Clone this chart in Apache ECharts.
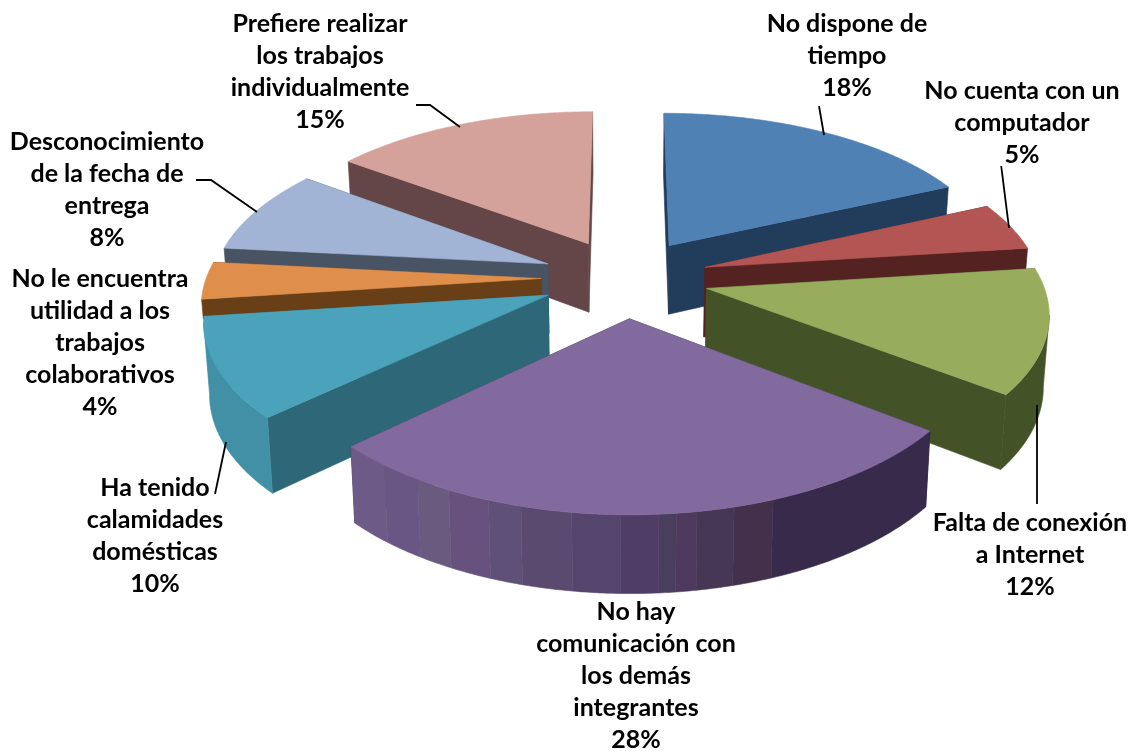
<!DOCTYPE html>
<html><head><meta charset="utf-8">
<style>html,body{margin:0;padding:0;background:#fff}#c{width:1134px;height:751px}</style>
<script src="https://cdn.jsdelivr.net/npm/echarts@6/dist/echarts.min.js"></script>
</head><body><div id="c"></div>
<script>
// ---- data (slice sizes estimated, labels show them rounded) ----
const categories = [
  'No dispone de\ntiempo',
  'No cuenta con un\ncomputador',
  'Falta de conexión\na Internet',
  'No hay\ncomunicación con\nlos demás\nintegrantes',
  'Ha tenido\ncalamidades\ndomésticas',
  'No le encuentra\nutilidad a los\ntrabajos\ncolaborativos',
  'Desconocimiento\nde la fecha de\nentrega',
  'Prefiere realizar\nlos trabajos\nindividualmente'
];
const values = [18.2, 4.8, 12.4, 27.6, 9.95, 3.7, 8.49, 14.86];

// ---- styles ----
const topColors  = ['#4f81b5','#b35552','#98ac5e','#826a9e','#4aa2bb','#df8e4b','#a1b4d5','#d4a29b'];
const sideColors = ['#213d5b','#542220','#445227','#372a4b','#2e6878','#683f17','#485364','#644648'];
const rimColors  = ['#213d5b','#542220','#445227','#372a4b','#4190a6','#683f17','#485364','#644648'];
const depthScale = [1, 1, 1, 1, 1, 0.28, 1, 1];
// stripes on the long front rim: [fraction of rim width from the left, colour]
const stripeRim = [[0,'#6d5a86'],[.058,'#695684'],[.117,'#6a5a7f'],[.169,'#67527d'],[.24,'#5f5078'],
  [.295,'#5b4a70'],[.383,'#55446b'],[.468,'#503d66'],[.532,'#4a3e5e'],[.562,'#4e3a5e'],[.6,'#463855'],
  [.659,'#43304a'],[.73,'#372a4b']];
const stripeSlice = 3;

// ---- label layout (centres) ----
const labelCentres = [[847,56],[1022,123],[1030,555],[636,676],[155,536],[100,343],[107,190],[320,72]];
const leaders = [
  [[819,106],[824,135]],
  [[1001.2,166],[1009,228]],
  [[1037,405],[1037,504]],
  null,
  [[226,442],[215,494]],
  null,
  [[196,180],[211,180],[257,212]],
  [[416,105],[430,105],[460,127]]
];

// ---- perspective pie geometry ----
const cx = 625, cy = 278, rx = 335, ry = 158, persp = 0.133, explode = 0.25;
const depthBase = 70, depthSlope = 7, nadir = 0.014;
function project(X, Y) {
  const s = 1 / (1 - persp * Y);
  return [cx + rx * X * s, cy + ry * Y * s];
}
function drop(p, Y, scale) {
  return [cx + (p[0] - cx) * (1 - nadir * scale), p[1] + (depthBase + depthSlope * Y) * scale];
}
const total = values.reduce((a, b) => a + b, 0);
const cum = [0];
values.forEach(v => cum.push(cum[cum.length - 1] + v));
const toRad = c => echarts.number.linearMap(c, [0, total], [0, 2 * Math.PI]);
const midY = i => -Math.cos(toRad((cum[i] + cum[i + 1]) / 2));
const paintOrder = values.map((_, i) => i).sort((a, b) => midY(a) - midY(b));

function renderSlice(params, api) {
  const i = params.dataIndex;
  const v = api.value(0);
  const a0 = toRad(cum[i]), a1 = toRad(cum[i] + v), am = (a0 + a1) / 2;
  const ox = explode * Math.sin(am), oy = -explode * Math.cos(am);
  const rank = paintOrder.indexOf(i) * 10 + 1;
  const ds = depthScale[i];
  const world = a => [ox + Math.sin(a), oy - Math.cos(a)];
  const steps = Math.max(8, Math.round((a1 - a0) / (Math.PI / 360)));
  const rimW = [];
  for (let k = 0; k <= steps; k++) rimW.push(world(a0 + (a1 - a0) * k / steps));
  const rim = rimW.map(w => project(w[0], w[1]));
  const apex = project(ox, oy);
  const apexB = drop(apex, oy, ds);
  const children = [];
  const poly = (pts, fill, z) => children.push({
    type: 'polygon', z2: rank + z, shape: { points: pts },
    style: { fill: fill, stroke: fill, lineWidth: 0.6 }
  });
  // radial faces first
  [[rim[0], rimW[0]], [rim[steps], rimW[steps]]].forEach(e => {
    poly([apex, e[0], drop(e[0], e[1][1], ds), apexB], sideColors[i], 0);
  });
  // outer rim: only the parts facing the viewer, contiguous same-colour parts merged
  const xs = rim.map(p => p[0]), minX = Math.min(...xs), maxX = Math.max(...xs);
  let run = null;
  const flush = () => {
    if (!run) return;
    const upper = run.idx.map(k => rim[k]);
    const lower = run.idx.map(k => drop(rim[k], rimW[k][1], ds)).reverse();
    poly(upper.concat(lower), run.col, 1);
    run = null;
  };
  for (let k = 0; k < steps; k++) {
    if (rim[k + 1][0] >= rim[k][0]) { flush(); continue; }
    let col = rimColors[i];
    if (i === stripeSlice) {
      const f = ((rim[k][0] + rim[k + 1][0]) / 2 - minX) / (maxX - minX);
      for (const st of stripeRim) if (f >= st[0]) col = st[1];
    }
    if (run && run.col === col) run.idx.push(k + 1);
    else {
      flush();
      run = { col: col, idx: [k, k + 1] };
    }
  }
  flush();
  // top
  poly([apex].concat(rim), topColors[i], 2);
  // leader
  if (leaders[i]) children.push({
    type: 'polyline', z2: 900, shape: { points: leaders[i] },
    style: { stroke: '#000', lineWidth: 1.8, fill: null }
  });
  // label
  children.push({
    type: 'text', z2: 1000, x: labelCentres[i][0], y: labelCentres[i][1],
    style: {
      text: api.value(1) + '\n' + Math.round(v) + '%',
      font: 'bold 25px Lato', lineHeight: 31.8, fill: '#000',
      align: 'center', verticalAlign: 'middle', textAlign: 'center', textVerticalAlign: 'middle'
    }
  });
  return { type: 'group', children: children };
}

const chart = echarts.init(document.getElementById('c'), null, { renderer: 'canvas' });
chart.setOption({
  backgroundColor: '#fff',
  animation: false,
  series: [{
    type: 'custom',
    coordinateSystem: 'none',
    renderItem: renderSlice,
    dimensions: ['value', { name: 'name', type: 'ordinal' }],
    encode: { value: 0 },
    data: values.map((v, i) => [v, categories[i]])
  }]
});
</script></body></html>
